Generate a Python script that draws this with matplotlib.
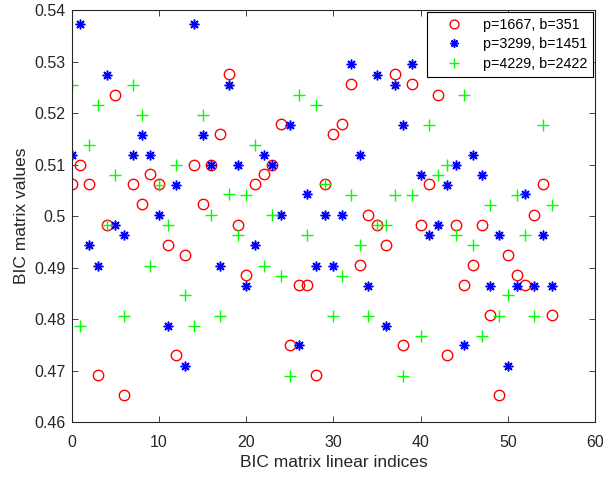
import matplotlib
matplotlib.use('Agg')
import matplotlib.pyplot as plt
import numpy as np
from matplotlib.ticker import FuncFormatter

plt.rcParams['font.family'] = 'sans-serif'
plt.rcParams['font.sans-serif'] = ['Liberation Sans', 'DejaVu Sans']

# BIC matrix values (index 0..55)
bic_p1667 = [0.5062, 0.5100, 0.5062, 0.4691, 0.4983, 0.5236, 0.4652, 0.5062, 0.5023, 0.5081,
             0.5062, 0.4944, 0.4730, 0.4924, 0.5100, 0.5023, 0.5100, 0.5159, 0.5276, 0.4983,
             0.4886, 0.5062, 0.5081, 0.5100, 0.5178, 0.4749, 0.4866, 0.4866, 0.4691, 0.5062,
             0.5159, 0.5178, 0.5256, 0.4905, 0.5003, 0.4983, 0.4944, 0.5276, 0.4749, 0.5256,
             0.4983, 0.5062, 0.5236, 0.4730, 0.4983, 0.4866, 0.4905, 0.4983, 0.4808, 0.4652,
             0.4924, 0.4886, 0.4866, 0.5003, 0.5062, 0.4808]
bic_p3299 = [0.5119, 0.5373, 0.4943, 0.4904, 0.5274, 0.4982, 0.4963, 0.5119, 0.5158, 0.5119,
             0.5003, 0.4787, 0.5061, 0.4709, 0.5373, 0.5158, 0.5100, 0.4904, 0.5255, 0.5100,
             0.4865, 0.4944, 0.5119, 0.5100, 0.5002, 0.5177, 0.4749, 0.5042, 0.4904, 0.5002,
             0.4904, 0.5002, 0.5295, 0.5119, 0.4865, 0.5274, 0.4787, 0.5255, 0.5177, 0.5295,
             0.5080, 0.4963, 0.4983, 0.5061, 0.5100, 0.4749, 0.5119, 0.5080, 0.4865, 0.4963,
             0.4709, 0.4865, 0.5042, 0.4865, 0.4963, 0.4865]
bic_p4229 = [0.5255, 0.4787, 0.5138, 0.5216, 0.4982, 0.5080, 0.4806, 0.5255, 0.5197, 0.4904,
             0.5061, 0.4982, 0.5100, 0.4846, 0.4787, 0.5197, 0.5003, 0.4806, 0.5042, 0.4963,
             0.5041, 0.5138, 0.4904, 0.5002, 0.4884, 0.4690, 0.5235, 0.4963, 0.5216, 0.5062,
             0.4806, 0.4884, 0.5041, 0.4944, 0.4806, 0.4983, 0.4983, 0.5041, 0.4690, 0.5041,
             0.4767, 0.5177, 0.5080, 0.5100, 0.4963, 0.5235, 0.4944, 0.4767, 0.5022, 0.4806,
             0.4846, 0.5041, 0.4963, 0.4806, 0.5177, 0.5022]
labels = ['p=1667, b=351', 'p=3299, b=1451', 'p=4229, b=2422']

txt_col = '#262626'

fig = plt.figure(figsize=(6.03, 4.78), dpi=100)
ax = fig.add_axes([0.119, 0.117, 0.868, 0.862])

idx = np.arange(len(bic_p1667))
ax.plot(idx, bic_p1667, linestyle='none', marker='o', markersize=7.5,
        markerfacecolor='none', markeredgecolor='r', markeredgewidth=1.0, label=labels[0])
ax.plot(idx, bic_p3299, linestyle='none', marker=(8, 2, 0), markersize=7,
        color='b', markeredgewidth=1.1, label=labels[1])
ax.plot(idx, bic_p4229, linestyle='none', marker='+', markersize=8.5,
        color=(0, 1, 0), markeredgewidth=1.0, label=labels[2])

ax.set_xlim(0, 60)
ax.set_ylim(0.46, 0.54)
ax.set_xticks(np.arange(0, 61, 10))
ax.set_yticks(np.arange(0.46, 0.5401, 0.01))
ax.yaxis.set_major_formatter(FuncFormatter(lambda v, p: '%g' % round(v, 2)))

ax.tick_params(direction='in', top=True, right=True, length=4, width=0.6,
               labelsize=11.5, colors=txt_col)
ax.tick_params(axis='x', pad=9)
ax.tick_params(axis='y', pad=4.5)
for s in ax.spines.values():
    s.set_color(txt_col)
    s.set_linewidth(0.8)

ax.set_xlabel('BIC matrix linear indices', fontsize=12.5, color=txt_col, labelpad=4)
ax.set_ylabel('BIC matrix values', fontsize=12.5, color=txt_col, labelpad=4)

leg = ax.legend(loc='upper right', fontsize=10.3, fancybox=False, framealpha=1,
                edgecolor='black', borderaxespad=0.15, handletextpad=0.6,
                handlelength=2.9, labelspacing=0.38, borderpad=0.4, markerscale=0.85)
leg.get_frame().set_linewidth(0.8)

fig.savefig('out.png', dpi=100)
